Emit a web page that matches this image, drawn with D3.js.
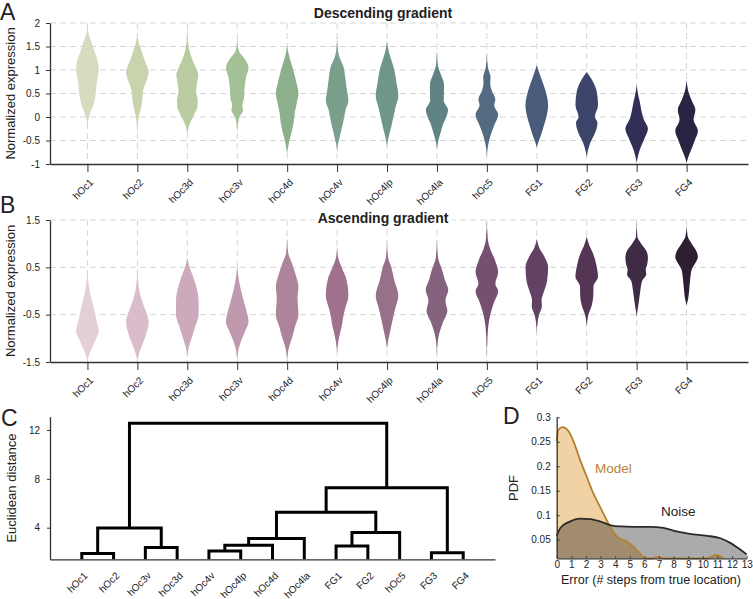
<!DOCTYPE html>
<html><head><meta charset="utf-8">
<script src="https://cdn.jsdelivr.net/npm/d3@7"></script>
<style>
body{margin:0;background:#fff}
svg{display:block}
text{font-family:"Liberation Sans",Arial,Helvetica,sans-serif;fill:#222}
</style>
</head><body>
<svg id="c" width="753" height="599"></svg>
<script>
// ---------------- DATA ----------------
const categories = ["hOc1","hOc2","hOc3d","hOc3v","hOc4d","hOc4v","hOc4lp","hOc4la","hOc5","FG1","FG2","FG3","FG4"];
const descTicks = [-1,-0.5,0,0.5,1,1.5,2];
const ascTicks = [-1.5,-0.5,0.5,1.5];

// violin profiles: [expression value, relative density]
const descProfiles = [
  [[2.0,0],[1.8,0.08],[1.6,0.35],[1.4,0.62],[1.2,0.9],[1.05,1.0],[0.9,0.95],[0.7,0.8],[0.45,0.7],[0.25,0.52],[0.05,0.2],[-0.1,0.06],[-0.3,0]],
  [[1.82,0],[1.6,0.1],[1.45,0.3],[1.25,0.58],[1.1,0.82],[0.95,1.0],[0.8,0.85],[0.6,0.55],[0.4,0.45],[0.2,0.33],[0.0,0.12],[-0.15,0.05],[-0.38,0]],
  [[1.95,0],[1.6,0.06],[1.4,0.2],[1.2,0.48],[1.0,0.85],[0.9,0.97],[0.75,0.88],[0.55,0.78],[0.35,0.92],[0.2,0.88],[0.05,0.6],[-0.12,0.25],[-0.25,0.08],[-0.4,0]],
  [[1.75,0],[1.5,0.06],[1.38,0.2],[1.25,0.62],[1.05,1.0],[0.85,0.78],[0.6,0.65],[0.4,0.6],[0.25,0.45],[0.15,0.52],[0.0,0.2],[-0.15,0.06],[-0.36,0]],
  [[1.53,0],[1.35,0.12],[1.1,0.42],[0.9,0.65],[0.7,0.85],[0.5,1.0],[0.3,0.85],[0.1,0.68],[-0.1,0.58],[-0.3,0.42],[-0.5,0.2],[-0.62,0.1],[-0.78,0]],
  [[1.74,0],[1.4,0.08],[1.25,0.25],[1.08,0.55],[0.85,0.72],[0.6,0.85],[0.35,1.0],[0.15,0.75],[-0.1,0.55],[-0.3,0.35],[-0.5,0.16],[-0.6,0.06],[-0.78,0]],
  [[1.63,0],[1.4,0.15],[1.2,0.4],[1.0,0.65],[0.75,0.82],[0.45,1.0],[0.2,0.75],[-0.05,0.52],[-0.3,0.28],[-0.45,0.12],[-0.62,0]],
  [[1.42,0],[1.1,0.08],[0.9,0.35],[0.7,0.62],[0.5,0.62],[0.35,0.6],[0.15,0.98],[0.05,0.9],[-0.15,0.55],[-0.35,0.3],[-0.5,0.12],[-0.68,0]],
  [[1.35,0],[1.05,0.1],[0.85,0.32],[0.7,0.3],[0.55,0.45],[0.38,0.75],[0.25,0.65],[0.05,1.0],[-0.15,0.7],[-0.35,0.38],[-0.55,0.15],[-0.85,0]],
  [[1.1,0],[0.95,0.2],[0.75,0.5],[0.55,0.78],[0.25,1.0],[0.0,0.85],[-0.2,0.6],[-0.4,0.35],[-0.55,0.12],[-0.65,0]],
  [[0.96,0],[0.8,0.45],[0.55,0.88],[0.25,1.0],[0.0,0.72],[-0.12,0.95],[-0.3,0.8],[-0.55,0.32],[-0.7,0.12],[-0.85,0]],
  [[0.68,0],[0.45,0.15],[0.3,0.3],[0.1,0.45],[-0.05,0.62],[-0.25,1.0],[-0.45,0.7],[-0.65,0.35],[-0.8,0.15],[-0.98,0]],
  [[0.79,0],[0.55,0.15],[0.35,0.45],[0.15,0.78],[-0.05,0.62],[-0.3,1.0],[-0.5,0.72],[-0.7,0.4],[-0.85,0.15],[-0.98,0]]
];
const ascProfiles = [
  [[0.5,0],[0.2,0.08],[0.0,0.2],[-0.3,0.5],[-0.6,0.78],[-0.85,1.0],[-1.0,0.78],[-1.15,0.5],[-1.3,0.22],[-1.42,0.06],[-1.5,0]],
  [[0.48,0],[0.2,0.06],[-0.05,0.22],[-0.3,0.55],[-0.45,0.78],[-0.65,1.0],[-0.9,0.8],[-1.1,0.5],[-1.25,0.25],[-1.4,0.06],[-1.5,0]],
  [[0.7,0],[0.5,0.2],[0.3,0.52],[0.1,0.78],[-0.2,1.0],[-0.5,1.0],[-0.75,0.7],[-1.0,0.38],[-1.2,0.12],[-1.38,0]],
  [[0.55,0],[0.3,0.1],[0.05,0.3],[-0.25,0.62],[-0.45,0.85],[-0.65,1.0],[-0.85,0.7],[-1.05,0.35],[-1.25,0.1],[-1.5,0]],
  [[1.12,0],[0.8,0.1],[0.6,0.4],[0.35,0.75],[0.1,1.0],[-0.15,0.92],[-0.5,1.0],[-0.75,0.7],[-1.0,0.42],[-1.2,0.15],[-1.5,0]],
  [[0.95,0],[0.7,0.1],[0.5,0.4],[0.25,0.82],[-0.1,1.0],[-0.4,0.68],[-0.6,0.5],[-0.7,0.45],[-0.85,0.3],[-1.05,0.12],[-1.3,0]],
  [[1.05,0],[0.7,0.1],[0.5,0.38],[0.25,0.62],[-0.1,1.0],[-0.35,0.75],[-0.6,0.5],[-0.85,0.28],[-1.05,0.1],[-1.22,0]],
  [[1.1,0],[0.7,0.1],[0.45,0.45],[0.25,0.68],[0.02,1.0],[-0.2,0.75],[-0.42,0.92],[-0.65,0.55],[-0.9,0.2],[-1.1,0.06],[-1.38,0]],
  [[1.5,0],[1.1,0.08],[0.9,0.28],[0.65,0.72],[0.4,1.0],[0.15,0.75],[0.0,1.0],[-0.25,0.62],[-0.5,0.3],[-0.75,0.12],[-1.0,0.05],[-1.45,0]],
  [[1.1,0],[0.9,0.25],[0.75,0.62],[0.5,1.0],[0.2,0.9],[-0.05,0.58],[-0.2,0.42],[-0.32,0.45],[-0.5,0.2],[-0.65,0.08],[-0.88,0]],
  [[1.15,0],[0.95,0.25],[0.8,0.55],[0.55,0.85],[0.3,1.0],[0.1,0.6],[-0.1,0.58],[-0.3,0.45],[-0.5,0.15],[-0.75,0]],
  [[1.5,0],[1.15,0.06],[1.0,0.4],[0.85,0.85],[0.7,1.0],[0.55,0.92],[0.45,0.8],[0.35,0.85],[0.22,0.5],[0.0,0.32],[-0.25,0.18],[-0.45,0.05],[-0.55,0]],
  [[1.38,0],[1.15,0.1],[1.0,0.45],[0.85,0.85],[0.72,1.0],[0.58,0.75],[0.45,0.45],[0.25,0.32],[0.0,0.22],[-0.15,0.15],[-0.3,0]]
];
const descColors = ["#d6dcc0","#c9d4ae","#b9cca1","#a3c096","#8cb08c","#7b9f8d","#6f968b","#5f8284","#536b80","#485b7b","#3c4569","#312f56","#282442"];
const ascColors  = ["#e4ced8","#d9bdca","#cca9bb","#c099ae","#ae849b","#9f718d","#977189","#85627e","#765070","#624264","#543654","#402b45","#2e1e33"];

// dendrogram: leaves in display order, merges [childA, childB, height] (ids >= 13 are merges)
const leafOrder = ["hOc1","hOc2","hOc3v","hOc3d","hOc4v","hOc4lp","hOc4d","hOc4la","FG1","FG2","hOc5","FG3","FG4"];
const linkage = [
  [0,1,1.88],    //13
  [2,3,2.38],    //14
  [4,5,2.1],     //15
  [15,6,2.57],   //16
  [16,7,3.12],   //17
  [8,9,2.5],     //18
  [18,10,3.6],   //19
  [17,19,5.26],  //20
  [11,12,1.94],  //21
  [20,21,7.27],  //22
  [13,14,3.98],  //23
  [23,22,12.55]  //24
];
const distTicks = [4,8,12];

// error distributions
const errorTicks = [0,1,2,3,4,5,6,7,8,9,10,11,12,13];
const pdfTicks = [0.05,0.1,0.15,0.2,0.25,0.3];
const modelX   = [0,0.1,0.4,0.8,1.15,1.6,2.05,2.5,2.95,3.3,3.65,4.1,4.8,5.25,5.7,6.0,6.5,6.9,7.3,10.3,10.9,11.4];
const modelPDF = [0.251,0.274,0.280,0.272,0.251,0.213,0.179,0.145,0.118,0.097,0.077,0.057,0.046,0.036,0.022,0.012,0.012,0.015,0.012,0.012,0.019,0.012];
const noiseX   = [0,0.25,0.9,1.6,2.3,3.0,3.65,4.3,5.25,6.4,7.3,8.2,9.1,10.3,11.2,11.9,12.55,13];
const noisePDF = [0.058,0.074,0.087,0.093,0.092,0.087,0.080,0.077,0.076,0.076,0.074,0.067,0.062,0.058,0.053,0.043,0.030,0.020];

// ---------------- DRAW ----------------
const svg = d3.select("#c");
const AX = "#333";

function styleAxis(g){
  g.selectAll(".domain").attr("stroke",AX).attr("stroke-width",1.3);
  g.selectAll(".tick line").attr("stroke",AX).attr("stroke-width",1);
  g.selectAll(".tick text").attr("fill","#222").style("font-family",'"Liberation Sans",Arial,sans-serif');
}

function panelLetter(t,x,y){
  svg.append("text").attr("x",x).attr("y",y).attr("font-size",23).text(t);
}

function violinPanel(o){
  const x = d3.scaleLinear().domain([0.25,14.23]).range([50,748]);
  const y = d3.scaleLinear().domain(o.yDomain).range(o.yRange);
  const g = svg.append("g");
  const grid = o.ticks.filter(t=>t>o.yDomain[0]);
  g.selectAll(null).data(grid).join("line")
    .attr("x1",50).attr("x2",748).attr("y1",d=>y(d)).attr("y2",d=>y(d))
    .attr("stroke","#d6d6d6").attr("stroke-dasharray","6,4");
  g.selectAll(null).data(categories).join("line")
    .attr("x1",(d,i)=>x(i+1)).attr("x2",(d,i)=>x(i+1))
    .attr("y1",y(o.yDomain[1])).attr("y2",y(o.yDomain[0]))
    .attr("stroke","#d6d6d6").attr("stroke-dasharray","6,4");
  const hw = 11.3;
  o.profiles.forEach((p,i)=>{
    const pts = p.slice().sort((a,b)=>a[0]-b[0]);
    const area = d3.area()
      .y(d=>y(d[0]))
      .x0(d=>x(i+1)-d[1]*hw)
      .x1(d=>x(i+1)+d[1]*hw)
      .curve(d3.curveMonotoneY);
    g.append("path").attr("d",area(pts)).attr("fill",o.colors[i]);
  });
  // title with white backing
  const tt = g.append("text").attr("x",383).attr("y",o.titleY).attr("text-anchor","middle")
    .attr("font-size",14).attr("font-weight","bold").attr("fill","#000").text(o.title);
  const bb = tt.node().getBBox();
  g.insert("rect","text").attr("x",bb.x-3).attr("y",bb.y).attr("width",bb.width+6).attr("height",bb.height+1).attr("fill","#fff");
  // axes
  const ya = g.append("g").attr("transform","translate(50,0)")
    .call(d3.axisLeft(y).tickValues(o.ticks).tickSize(4).tickSizeOuter(0).tickPadding(6).tickFormat(d=>String(d)));
  styleAxis(ya); ya.selectAll(".tick text").attr("font-size",10);
  const xa = g.append("g").attr("transform",`translate(0,${o.yRange[0]})`)
    .call(d3.axisBottom(x).tickValues(d3.range(1,14)).tickSize(8).tickSizeOuter(0).tickFormat(d=>categories[d-1]));
  styleAxis(xa);
  xa.selectAll(".tick text").attr("font-size",10).attr("x",0).attr("y",0).attr("dy",0)
    .attr("transform","translate(6,19) rotate(-45)").style("text-anchor","end");
  // y label
  g.append("text").attr("transform",`translate(15,${(o.yRange[0]+o.yRange[1])/2}) rotate(-90)`)
    .attr("text-anchor","middle").attr("font-size",13).text("Normalized expression");
}

violinPanel({profiles:descProfiles,colors:descColors,yDomain:[-1,2],yRange:[164,23],ticks:descTicks,title:"Descending gradient",titleY:18});
violinPanel({profiles:ascProfiles,colors:ascColors,yDomain:[-1.5,1.5],yRange:[362,220],ticks:ascTicks,title:"Ascending gradient",titleY:223});
panelLetter("A",0,20);
panelLetter("B",0,213);

// ---- Panel C: dendrogram ----
(function(){
  const x = d3.scaleLinear().domain([0,14]).range([50,495]);
  const y = d3.scaleLinear().domain([1.41,13.09]).range([559.3,416.7]);
  const g = svg.append("g");
  const nx = [], nh = [];
  leafOrder.forEach((d,i)=>{ nx[i]=x(i+1); nh[i]=y.domain()[0]; });
  const segs = [];
  linkage.forEach((m,k)=>{
    const id = leafOrder.length + k;
    const [a,b,h] = m;
    nx[id] = (nx[a]+nx[b])/2; nh[id] = h;
    segs.push([[nx[a],y(nh[a])],[nx[a],y(h)],[nx[b],y(h)],[nx[b],y(nh[b])]]);
  });
  g.selectAll(null).data(segs).join("path")
    .attr("d",d=>d3.line()(d)).attr("fill","none").attr("stroke","#000")
    .attr("stroke-width",3).attr("stroke-linejoin","miter");
  const ya = g.append("g").attr("transform","translate(50,0)")
    .call(d3.axisLeft(y).tickValues(distTicks).tickSize(3).tickSizeOuter(0).tickPadding(7));
  styleAxis(ya); ya.selectAll(".tick text").attr("font-size",10);
  const xa = g.append("g").attr("transform","translate(0,559.3)")
    .call(d3.axisBottom(x).tickValues(d3.range(1,14)).tickSize(0).tickSizeOuter(0).tickFormat(d=>leafOrder[d-1]));
  styleAxis(xa);
  xa.selectAll(".tick text").attr("font-size",10).attr("x",0).attr("y",0).attr("dy",0)
    .attr("transform","translate(6,17) rotate(-45)").style("text-anchor","end");
  g.append("text").attr("transform","translate(16,488) rotate(-90)")
    .attr("text-anchor","middle").attr("font-size",13).text("Euclidean distance");
})();
panelLetter("C",1,426);

// ---- Panel D: error PDFs ----
(function(){
  const x = d3.scaleLinear().domain([0,13]).range([556.7,746.7]);
  const y = d3.scaleLinear().domain([0.012,0.3]).range([558.3,417.3]);
  const g = svg.append("g");
  const model = modelX.map((v,i)=>[v,modelPDF[i]]);
  const noise = noiseX.map((v,i)=>[v,noisePDF[i]]);
  const area = d3.area().x(d=>x(d[0])).y0(y(0.012)).y1(d=>y(d[1])).curve(d3.curveMonotoneX);
  const line = d3.line().x(d=>x(d[0])).y(d=>y(d[1])).curve(d3.curveMonotoneX);
  g.append("path").attr("d",area(model)).attr("fill","#f1d2a4");
  g.append("path").attr("d",area(noise)).attr("fill","#000").attr("fill-opacity",0.33);
  g.append("path").attr("d",line(model)).attr("fill","none").attr("stroke","#b3802f").attr("stroke-width",1.8);
  g.append("path").attr("d",line(noise)).attr("fill","none").attr("stroke","#2a2a2a").attr("stroke-width",1.8);
  const ya = g.append("g").attr("transform","translate(556.7,0)")
    .call(d3.axisLeft(y).tickValues(pdfTicks).tickSize(-3).tickSizeOuter(0).tickPadding(6).tickFormat(d=>String(d)));
  styleAxis(ya); ya.selectAll(".tick text").attr("font-size",10);
  const xa = g.append("g").attr("transform","translate(0,558.3)")
    .call(d3.axisBottom(x).tickValues(errorTicks).tickSize(-2).tickSizeOuter(0).tickPadding(3));
  styleAxis(xa); xa.selectAll(".tick text").attr("font-size",10);
  g.append("text").attr("x",651).attr("y",584).attr("text-anchor","middle").attr("font-size",12.5)
    .text("Error (# steps from true location)");
  g.append("text").attr("transform","translate(518,488) rotate(-90)")
    .attr("text-anchor","middle").attr("font-size",13).text("PDF");
  g.append("text").attr("x",595).attr("y",473).attr("font-size",13.5).style("fill","#b8843a").text("Model");
  g.append("text").attr("x",661).attr("y",516).attr("font-size",13.5).text("Noise");
})();
panelLetter("D",503,424);
</script>
</body></html>
